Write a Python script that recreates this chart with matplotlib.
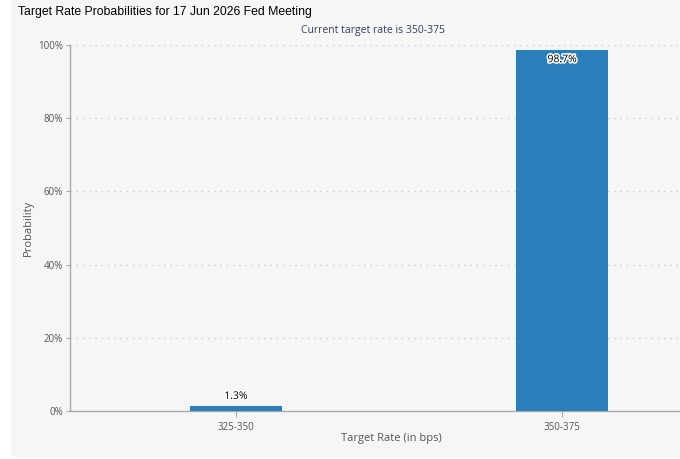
import matplotlib
matplotlib.use("Agg")
import matplotlib.pyplot as plt
from matplotlib.patches import FancyBboxPatch
import matplotlib.patheffects as pe

# data
rates = ["325-350", "350-375"]
probs = [1.3, 98.7]
yticks = [0, 20, 40, 60, 80, 100]

bar_color = "#2a7fba"
grey_txt = "#555555"

plt.rcParams["font.family"] = ["Open Sans", "DejaVu Sans"]

fig = plt.figure(figsize=(6.8, 4.59), dpi=100)
fig.patch.set_facecolor("white")

# light grey panel behind everything
panel = FancyBboxPatch((11 / 680, 2 / 459), 1.0, 1.0, boxstyle="round,pad=0,rounding_size=0.01",
                       transform=fig.transFigure, facecolor="#f6f6f6", edgecolor="none", zorder=-5)
fig.patches.append(panel)

ax = fig.add_axes([70 / 680, 1 - 411 / 459, 1 - 70 / 680, (411 - 45) / 459])
ax.set_facecolor("none")
ax.set_zorder(2)

x = list(range(len(rates)))
bars = ax.bar(x, probs, width=0.28, color=bar_color, zorder=3)

ax.set_xlim(-0.509, 1.362)
ax.set_ylim(0, 100)
ax.set_xticks(x)
ax.set_xticklabels(rates)
ax.set_yticks(yticks)
ax.set_yticklabels([f"{t}%" for t in yticks])

ax.tick_params(axis="both", labelsize=7, colors="#aaaaaa", labelcolor=grey_txt, length=4, width=0.8)
ax.tick_params(axis="y", length=3, pad=2)
ax.tick_params(axis="x", pad=4)

for s in ["top", "right"]:
    ax.spines[s].set_visible(False)
ax.spines["left"].set_color("#aaaaaa")
ax.spines["bottom"].set_color("#aaaaaa")
ax.spines["left"].set_linewidth(1.0)
ax.spines["bottom"].set_linewidth(1.0)

ax.yaxis.grid(True, linestyle=(0, (1, 4)), color="#c8c8c8", linewidth=0.9, zorder=1)

outline = [pe.withStroke(linewidth=2.2, foreground="white")]
for b, p in zip(bars, probs):
    cx = b.get_x() + b.get_width() / 2
    if p > 50:
        ax.text(cx, p - 1.2, f"{p}%", ha="center", va="top", fontsize=7.5, color="black",
                path_effects=outline, zorder=4)
    else:
        ax.text(cx, p + 1.2, f"{p}%", ha="center", va="bottom", fontsize=7.5, color="black",
                path_effects=outline, zorder=4)

ax.set_xlabel("Target Rate (in bps)", fontsize=8, color=grey_txt)
ax.set_ylabel("Probability", fontsize=8, color=grey_txt)
ax.yaxis.set_label_coords(-(70 - 28) / 610, 0.5)
ax.xaxis.set_label_coords((391 - 70) / 610, -(438 - 411) / 366)
ax.xaxis.label.set_va("center")
ax.yaxis.label.set_va("center")

fig.text(18 / 680, 1 - 12 / 459, "Target Rate Probabilities for 17 Jun 2026 Fed Meeting",
         fontsize=8.8, family="Liberation Sans", color="black", ha="left", va="center")
fig.text(373 / 680, 1 - 30 / 459, "Current target rate is 350-375",
         fontsize=7.5, color="#33415c", ha="center", va="center")

fig.savefig("out.png", dpi=100)
